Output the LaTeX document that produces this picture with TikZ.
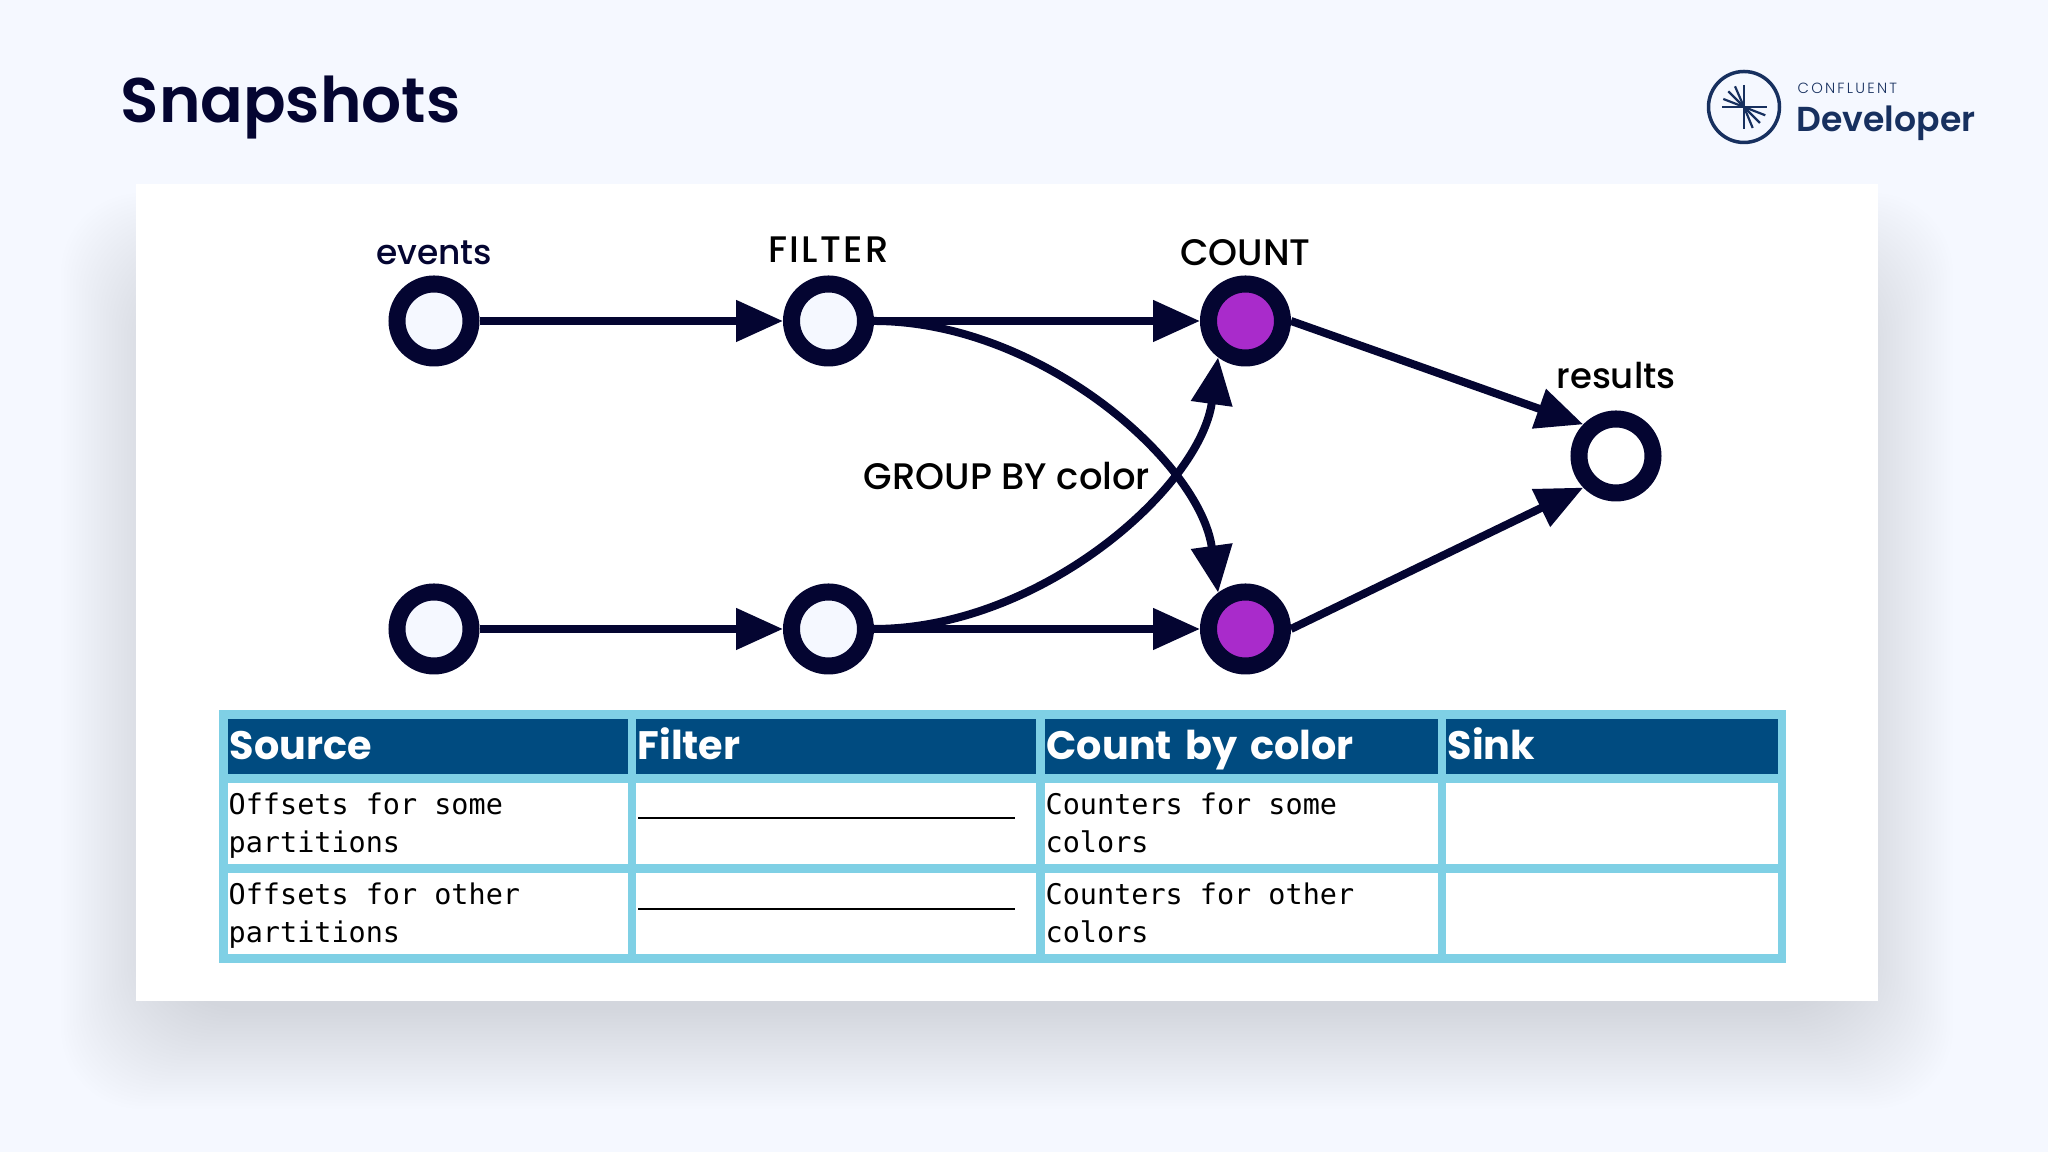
\documentclass[tikz,border=0pt]{standalone}
\usepackage{fontspec}
\usepackage{tikz}
\usetikzlibrary{positioning,arrows.meta,calc}
\setmainfont{Poppins}
\newfontfamily\headfont{Poppins}[UprightFont=* SemiBold]
\newfontfamily\tablefont{Poppins}[UprightFont=* Bold]
\newfontfamily\labelfont{Poppins}[UprightFont=* Medium]
\newfontfamily\spacedfont{Poppins}[UprightFont=* Medium,LetterSpace=6]
\newfontfamily\lightfont{Poppins}[UprightFont=* Light,LetterSpace=15]
\newfontfamily\cellfont{DejaVu Sans Mono}
\newcommand{\cellstrut}{\rule[-2.5pt]{0pt}{10.8pt}}
\definecolor{pagebg}{HTML}{F5F8FF}
\definecolor{cfnavy}{HTML}{040531}
\definecolor{cfpurple}{HTML}{A92BCB}
\definecolor{cfring}{HTML}{7FD0E5}
\definecolor{cfhead}{HTML}{004B80}
\definecolor{cflogo}{HTML}{17305F}
\tikzset{
  stage/.style={circle, draw=cfnavy, line width=0.17cm, minimum size=0.74cm, inner sep=0pt, fill=pagebg},
  stateful/.style={stage, fill=cfpurple},
  flow/.style={draw=cfnavy, line width=0.08cm, -{Triangle[length=0.47cm,width=0.4cm]}},
  stagelabel/.style={font=\labelfont\fontsize{10.5}{12}\selectfont, text=black, anchor=base, inner sep=0pt},
  headcell/.style={fill=cfhead, text=white, minimum height=0.55cm, inner sep=0.02cm, align=left, anchor=north west, text height=0.39cm, text depth=0.12cm, font=\tablefont\fontsize{11.3}{13}\selectfont},
  bodycell/.style={fill=white, text=black, minimum height=0.815cm, inner sep=0.01cm, align=flush left, anchor=north west, font=\cellfont\fontsize{8.1}{10.8}\selectfont}
}
\begin{document}
\begin{tikzpicture}
    \useasboundingbox (0,0) rectangle (20.48,11.52);
    \fill[pagebg] (0,0) rectangle (20.48,11.52);
    % soft shadow of the panel
    \foreach \r in {0,0.03,...,1.0} {
      \fill[cfnavy, opacity=0.0045, rounded corners=0.8cm] (1.6-\r,1.42-\r) rectangle (18.54+\r,8.6+\r);
    }
    \fill[white] (1.36,1.51) rectangle (18.78,9.68);
    % title and logo
    \node[anchor=base west, inner sep=0pt, text=cfnavy, font=\headfont\fontsize{17.9}{20}\selectfont] (title) at (1.2,10.29) {Snapshots};
    \draw[cflogo, line width=0.035cm] (17.44,10.45) circle (0.355);
    \draw[cflogo, line width=0.025cm] (17.22,10.45) -- (17.67,10.45);
    \draw[cflogo, line width=0.025cm] (17.44,10.67) -- (17.44,10.23);
    \foreach \dx/\dy in {-0.09/0.207,-0.157/0.157,-0.207/0.08,0.087/-0.21,0.16/-0.16,0.213/-0.083} {
      \draw[cflogo, line width=0.022cm] (17.44,10.45) -- ++(\dx,\dy);
    }
    \node[anchor=base west, inner sep=0pt, text=cflogo, font=\lightfont\fontsize{4.2}{5}\selectfont] (brand) at (17.97,10.585) {CONFLUENT};
    \node[anchor=base west, inner sep=0pt, text=cflogo, font=\headfont\fontsize{9.85}{11}\selectfont] (developer) at (17.96,10.2) {Developer};
    % stages
    \node[stage] (sourceA) at (4.34,8.31) {};
    \node[stage] (filterA) at (8.285,8.31) {};
    \node[stateful] (countA) at (12.455,8.31) {};
    \node[stage] (sourceB) at (4.34,5.23) {};
    \node[stage] (filterB) at (8.285,5.23) {};
    \node[stateful] (countB) at (12.455,5.23) {};
    \node[stage, fill=white] (results) at (16.16,6.96) {};
    \node[stagelabel, text=cfnavy, font=\labelfont\fontsize{9.8}{12}\selectfont] (eventslabel) at (4.34,8.87) {events};
    \node[stagelabel, font=\spacedfont\fontsize{10.5}{12}\selectfont] (filterlabel) at (8.285,8.895) {FILTER};
    \node[stagelabel] (countlabel) at (12.455,8.865) {COUNT};
    \node[stagelabel, font=\labelfont\fontsize{10.1}{12}\selectfont] (resultslabel) at (16.16,7.63) {results};
    \node[stagelabel] (grouplabel) at (10.07,6.625) {GROUP BY color};
    % connectors
    \draw[flow] (sourceA) -- (filterA);
    \draw[flow] (filterA) -- (countA);
    \draw[flow] (sourceB) -- (filterB);
    \draw[flow] (filterB) -- (countB);
    \draw[flow] (countA.east) -- (results.136);
    \draw[flow] (countB.east) -- (results.224);
    \draw[flow] (filterA.east) .. controls (10.4,8.31) and (12.0,6.9) .. (countB.127);
    \draw[flow] (filterB.east) .. controls (10.4,5.23) and (12.0,6.64) .. (countA.233);
    % table
    \fill[cfring] (2.186,1.89) rectangle (17.86,4.42);
    \node[headcell, minimum width=4cm, text width=3.96cm] (h1) at (2.27,4.34) {Source};
    \node[headcell, minimum width=4cm, text width=3.96cm] (h2) at (6.35,4.34) {Filter};
    \node[headcell, minimum width=3.93cm, text width=3.89cm] (h3) at (10.44,4.34) {Count by color};
    \node[headcell, minimum width=3.32cm, text width=3.28cm] (h4) at (14.45,4.34) {Sink};
    \node[bodycell, minimum width=4cm, text width=3.98cm] (a1) at (2.27,3.7) {\cellstrut Offsets for some\\\cellstrut partitions};
    \node[bodycell, minimum width=4cm] (a2) at (6.35,3.7) {};
    \node[bodycell, minimum width=3.93cm, text width=3.91cm] (a3) at (10.44,3.7) {\cellstrut Counters for some\\\cellstrut colors};
    \node[bodycell, minimum width=3.32cm] (a4) at (14.45,3.7) {};
    \node[bodycell, minimum width=4cm, text width=3.98cm] (b1) at (2.27,2.8) {\cellstrut Offsets for other\\\cellstrut partitions};
    \node[bodycell, minimum width=4cm] (b2) at (6.35,2.8) {};
    \node[bodycell, minimum width=3.93cm, text width=3.91cm] (b3) at (10.44,2.8) {\cellstrut Counters for other\\\cellstrut colors};
    \node[bodycell, minimum width=3.32cm] (b4) at (14.45,2.8) {};
    \draw[black, line width=0.025cm] (6.38,3.34) -- (10.15,3.34);
    \draw[black, line width=0.025cm] (6.38,2.43) -- (10.15,2.43);
  \end{tikzpicture}
\end{document}
